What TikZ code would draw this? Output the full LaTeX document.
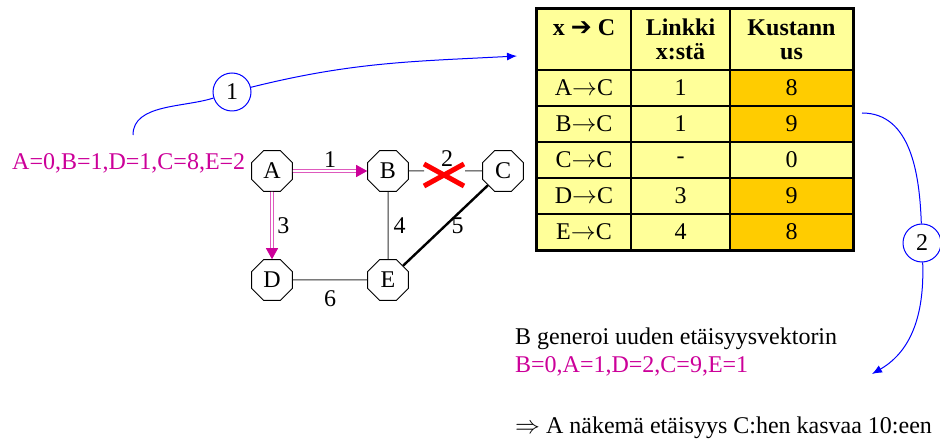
\documentclass[tikz,border=0pt]{standalone}
\usepackage{fontspec}
\setmainfont{Liberation Serif}
\newfontfamily\arrowfont{DejaVu Sans}
\usetikzlibrary{arrows.meta,positioning,shapes.geometric}
\definecolor{vecpink}{HTML}{CC0099}
\definecolor{linkblue}{HTML}{0000FF}
\definecolor{celllight}{HTML}{FFFF99}
\definecolor{cellcost}{HTML}{FFCC00}
\definecolor{crossred}{HTML}{FF0000}
\definecolor{wiregray}{HTML}{333333}
\tikzset{
  router/.style={draw,line width=0.9pt,regular polygon,regular polygon sides=8,minimum size=44pt,inner sep=0pt,fill=white},
  stepmark/.style={draw=linkblue,line width=1pt,circle,minimum size=38pt,inner sep=0pt,fill=white},
  cell/.style={draw,line width=1.5pt,minimum height=36pt,inner sep=0pt},
  headcell/.style={cell,minimum height=61pt,align=center,font=\fontsize{24}{24}\selectfont\bfseries},
  wire/.style={draw=wiregray,line width=1pt},
  thickwire/.style={draw=black,line width=2.4pt},
  pinklink/.style={draw=vecpink,double=white,double distance=1.6pt,line width=0.9pt,-{Triangle[length=11pt,width=12pt]}},
  bluelink/.style={draw=linkblue,line width=1pt},
  crossbar/.style={draw=crossred,line width=5pt},
  weight/.style={inner sep=2pt},
  vectext/.style={text=vecpink,inner sep=0pt},
  note/.style={inner sep=0pt}
}

\begin{document}
\begin{tikzpicture}[x=1pt,y=1pt,font=\fontsize{24}{24}\selectfont]
\useasboundingbox (0,0) rectangle (940,442);
% the network
\node[router] (A) at (272,271) {A};
\node[router] (B) at (388,271) {B};
\node[router] (C) at (503,271) {C};
\node[router] (D) at (272,162) {D};
\node[router] (E) at (388,162) {E};
\coordinate (cutL) at (424,271);
\coordinate (cutR) at (465,271);
\coordinate (cut) at (444,267);
\draw[wire] (B) -- (cutL);
\draw[wire] (cutR) -- (C);
\draw[crossbar] ([shift={(-20,11)}]cut) -- ([shift={(20,-11)}]cut)
  ([shift={(-20,-11)}]cut) -- ([shift={(20,11)}]cut);
\node[weight] (w2) at (447,283) {2};
\draw[pinklink] (A) -- node[weight,above=1pt] (w1) {1} (B);
\draw[pinklink] (A) -- node[weight,right=3pt] (w3) {3} (D);
\draw[wire] (B) -- node[weight,right=3pt] (w4) {4} (E);
\draw[thickwire] (E) -- node[weight,right=3pt] (w5) {5} (C);
\draw[wire] (D) -- node[weight,below=8pt] (w6) {6} (E);
\node[vectext,anchor=base west] (vecA) at (12,272) {A=0,B=1,D=1,C=8,E=2};

% routing table of B
\node[headcell,minimum width=94pt,fill=celllight] (head1) at (584,402.5) {x {\arrowfont\fontsize{25}{24}\selectfont ➔} C\\\mbox{}};
\node[headcell,minimum width=99pt,fill=celllight] (head2) at (680.5,402.5) {Linkki\\x:stä};
\node[headcell,minimum width=123pt,fill=celllight] (head3) at (791.5,402.5) {Kustann\\us};
\foreach \from/\link/\cost/\tone [count=\i] in {A/1/8/cellcost,B/1/9/cellcost,C/-/0/celllight,D/3/9/cellcost,E/4/8/cellcost}{
  \node[cell,minimum width=94pt,fill=celllight] (dest\i) at (584,390-36*\i) {\from$\rightarrow$C};
  \node[cell,minimum width=99pt,fill=celllight] (link\i) at (680.5,390-36*\i) {\link};
  \node[cell,minimum width=123pt,fill=\tone] (cost\i) at (791.5,390-36*\i) {\cost};
}
\draw[line width=3pt] (head1.north west) rectangle (cost5.south east);

% update steps
\coordinate (vecstart) at (133,307);
\node[stepmark] (s1) at (232,350) {1};
\coordinate (tabtip) at (517,386);
\draw[bluelink] (vecstart) to[out=90,in=198,looseness=0.9] (s1);
\draw[bluelink,-{Latex[length=10pt,width=8pt]}] (s1) to[out=14,in=183] (tabtip);
\coordinate (costout) at (862,329);
\node[stepmark] (s2) at (922,199) {2};
\coordinate (vectip) at (872,68);
\draw[bluelink] (costout) to[out=0,in=92] (s2);
\draw[bluelink,-{Latex[length=10pt,width=8pt]}] (s2) to[out=-88,in=30] (vectip);

\node[note,anchor=base west] (newvec) at (515,97) {B generoi uuden etäisyysvektorin};
\node[vectext,anchor=base west] (vecB) at (515,70) {B=0,A=1,D=2,C=9,E=1};
\node[note,anchor=base west] (result) at (515,9) {$\Rightarrow$ A näkemä etäisyys C:hen kasvaa 10:een};
\end{tikzpicture}
\end{document}
